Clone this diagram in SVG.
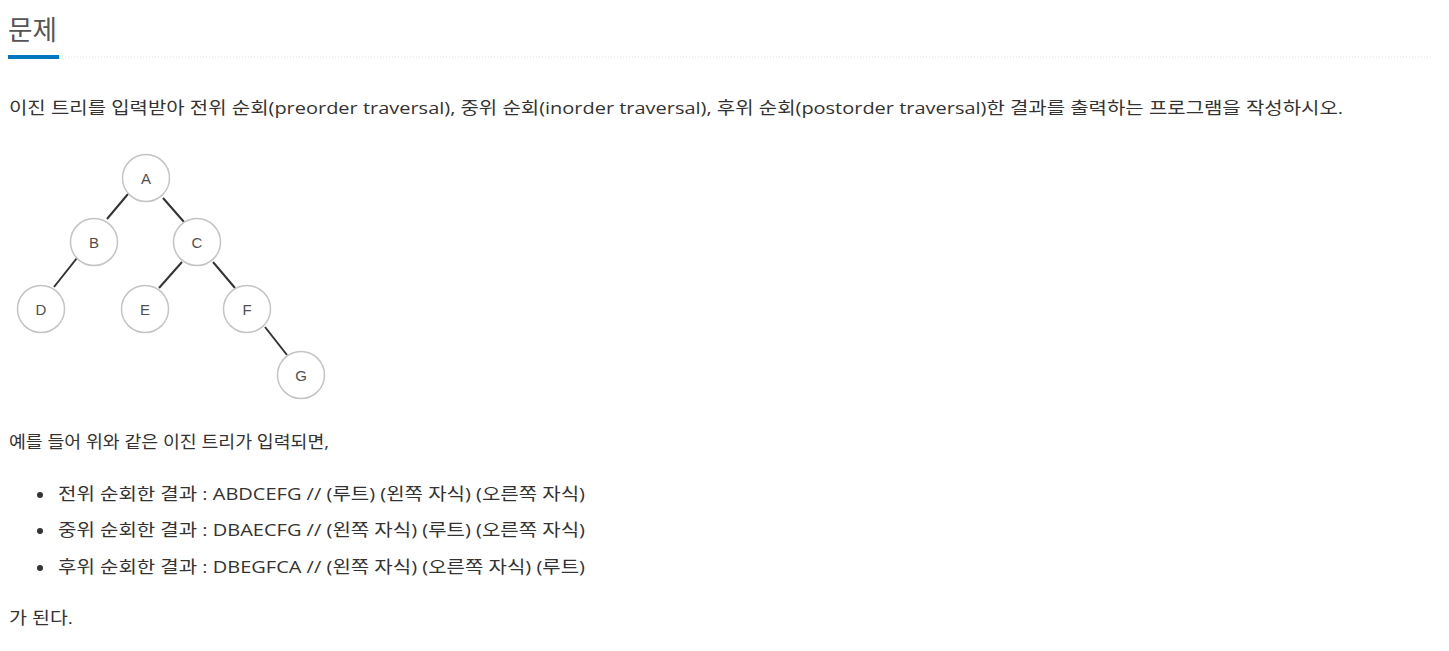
<svg xmlns="http://www.w3.org/2000/svg" width="1449" height="651" viewBox="0 0 1449 651">
<style>
.t{font-family:"Open Sans","Noto Sans CJK KR",sans-serif;font-size:17px;fill:#333}
.h{font-family:"Open Sans","Noto Sans CJK KR",sans-serif;font-size:27px;fill:#555}
.node circle{fill:#fff;stroke:#c4c4c4;stroke-width:1.5}
.node text{font-family:"Liberation Sans",Arial,sans-serif;font-size:15px;fill:#505050;text-anchor:middle}
.edges line{stroke:#333;stroke-width:2}
</style>
<rect width="1449" height="651" fill="#fff"/>
<text class="h" x="8" y="40" textLength="49" lengthAdjust="spacingAndGlyphs">문제</text>
<line x1="59" y1="57" x2="1433" y2="57" stroke="#dde3e8" stroke-width="1" stroke-dasharray="1,2"/>
<rect x="8" y="55" width="51" height="4" fill="#0076c0"/>
<text class="t" x="9" y="114" textLength="1334" lengthAdjust="spacingAndGlyphs">이진 트리를 입력받아 전위 순회(preorder traversal), 중위 순회(inorder traversal), 후위 순회(postorder traversal)한 결과를 출력하는 프로그램을 작성하시오.</text>
<g class="edges">
<line x1="128" y1="194" x2="107" y2="219"/>
<line x1="163" y1="198" x2="184" y2="222"/>
<line x1="77" y1="258" x2="54" y2="287"/>
<line x1="182" y1="262" x2="159" y2="288"/>
<line x1="213" y1="262" x2="235" y2="288"/>
<line x1="265" y1="327" x2="287" y2="355"/>
</g>
<g id="A" class="node"><circle cx="146" cy="178" r="23.5"/><text x="146" y="183.5">A</text></g>
<g id="B" class="node"><circle cx="94" cy="242" r="23.5"/><text x="94" y="247.5">B</text></g>
<g id="C" class="node"><circle cx="197" cy="242" r="23.5"/><text x="197" y="247.5">C</text></g>
<g id="D" class="node"><circle cx="41" cy="309" r="23.5"/><text x="41" y="314.5">D</text></g>
<g id="E" class="node"><circle cx="145" cy="309" r="23.5"/><text x="145" y="314.5">E</text></g>
<g id="F" class="node"><circle cx="247" cy="309" r="23.5"/><text x="247" y="314.5">F</text></g>
<g id="G" class="node"><circle cx="301" cy="375" r="23.5"/><text x="301" y="380.5">G</text></g>
<text class="t" x="9" y="448" textLength="320" lengthAdjust="spacingAndGlyphs">예를 들어 위와 같은 이진 트리가 입력되면,</text>
<circle cx="40" cy="495" r="3" fill="#333"/>
<circle cx="40" cy="531" r="3" fill="#333"/>
<circle cx="40" cy="568" r="3" fill="#333"/>
<text class="t" x="58" y="500" textLength="527" lengthAdjust="spacingAndGlyphs">전위 순회한 결과 : ABDCEFG // (루트) (왼쪽 자식) (오른쪽 자식)</text>
<text class="t" x="58" y="536" textLength="527" lengthAdjust="spacingAndGlyphs">중위 순회한 결과 : DBAECFG // (왼쪽 자식) (루트) (오른쪽 자식)</text>
<text class="t" x="58" y="573" textLength="527" lengthAdjust="spacingAndGlyphs">후위 순회한 결과 : DBEGFCA // (왼쪽 자식) (오른쪽 자식) (루트)</text>
<text class="t" x="9" y="624" textLength="64" lengthAdjust="spacingAndGlyphs">가 된다.</text>
</svg>
